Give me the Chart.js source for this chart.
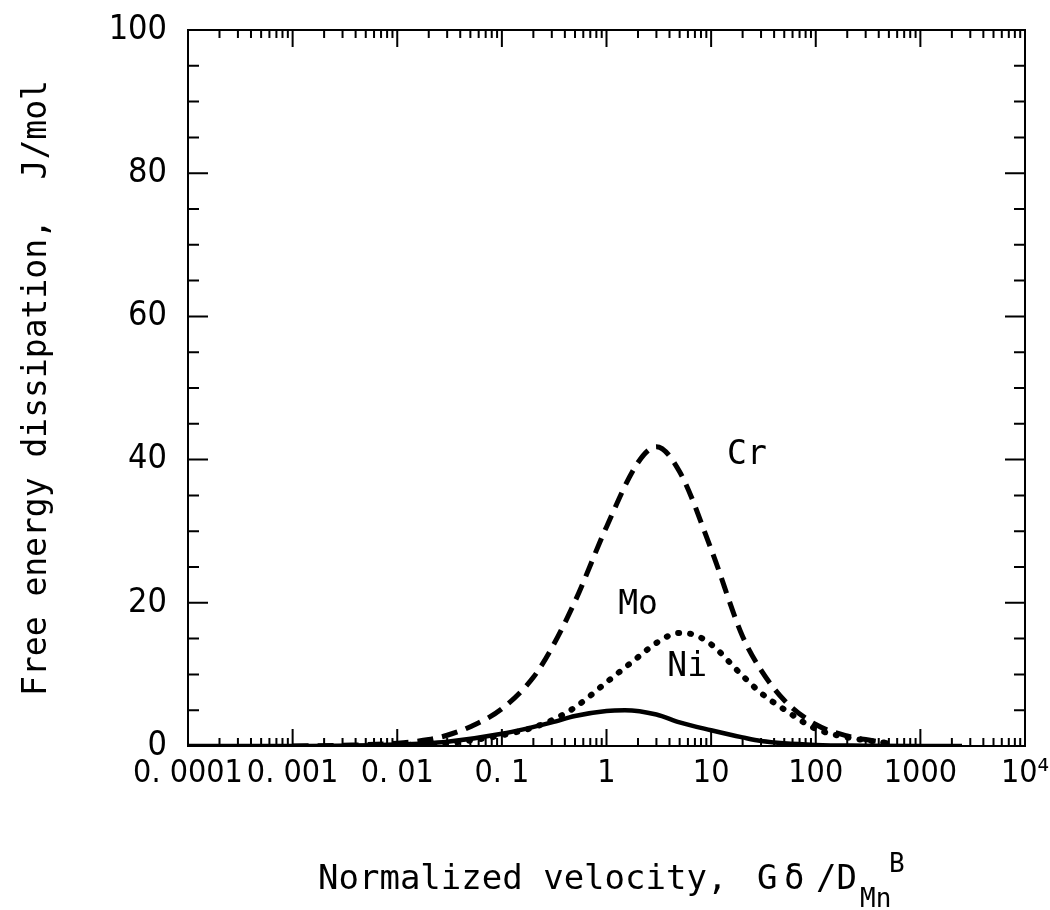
<!DOCTYPE html>
<html>
<head>
<meta charset="utf-8">
<script src="https://cdn.jsdelivr.net/npm/chart.js@4.4.1/dist/chart.umd.min.js"></script>
<style>
  body { margin: 0; background: #fff; }
  #wrap { width: 1050px; height: 910px; }
</style>
</head>
<body>
<div id="wrap"><canvas id="dissChart" width="1050" height="910"></canvas></div>
<script>
// x axis decades and their labels
const xDecades = [1e-4, 1e-3, 1e-2, 1e-1, 1, 10, 100, 1000, 1e4];
const xTickLabels = ['0. 0001', '0. 001', '0. 01', '0. 1', '1', '10', '100', '1000', '10\u2074'];

// Cr (dashed)
const crX = [0.001, 0.003, 0.01, 0.02, 0.03, 0.05, 0.1, 0.2, 0.3, 0.5, 1, 2, 3, 5, 10, 20, 30, 50, 100, 200, 300, 500];
const crY = [0, 0.1, 0.4, 0.9, 1.5, 2.7, 5.2, 9.6, 13.7, 20.2, 30.6, 39.6, 41.8, 38.3, 27.5, 15.3, 10.6, 6.4, 3.0, 1.4, 0.9, 0.4];
// Mo (dotted)
const moX = [0.01, 0.03, 0.1, 0.2, 0.3, 0.5, 1, 2, 3, 5, 7, 10, 20, 30, 50, 100, 200, 300, 500];
const moY = [0.1, 0.4, 1.5, 2.6, 3.6, 5.4, 8.9, 12.4, 14.4, 15.8, 15.5, 14.2, 9.8, 7.4, 5.1, 2.4, 1.2, 0.8, 0.4];
// Ni (solid)
const niX = [0.0001, 0.001, 0.01, 0.03, 0.1, 0.3, 0.5, 1, 1.5, 3, 5, 10, 20, 30, 100, 300, 1000, 2500];
const niY = [0, 0, 0.2, 0.6, 1.7, 3.3, 4.2, 4.9, 5.0, 4.4, 3.3, 2.2, 1.2, 0.7, 0.15, 0.05, 0, 0];

const toPoints = (xs, ys) => xs.map((v, i) => ({ x: v, y: ys[i] }));

// pick a narrow font for the tick numbers if one is installed
function hasFont(name) {
    const c = document.createElement('canvas').getContext('2d');
    const probe = '0. 0001 abcMWil';
    c.font = '40px monospace';
    const w1 = c.measureText(probe).width;
    c.font = `40px '${name}', monospace`;
    return c.measureText(probe).width !== w1;
}
const monoFont = "'DejaVu Sans Mono', monospace";
let tickFamily = "'Liberation Sans', sans-serif";
let tickScale = 0.9;
if (hasFont('Liberation Sans Narrow')) { tickFamily = "'Liberation Sans Narrow', sans-serif"; tickScale = 1.08; }
else if (hasFont('DejaVu Sans Condensed')) { tickFamily = "'DejaVu Sans Condensed', sans-serif"; tickScale = 1; }

// curve names, placed in data coordinates
const curveLabels = [
    { text: 'Cr', x: 22, y: 40.6 },
    { text: 'Mo', x: 2.0, y: 19.7 },
    { text: 'Ni', x: 5.9, y: 11.0 }
];

// frame, inward ticks, curve names and the x title
const framePlugin = {
    id: 'framePlugin',
    afterDatasetsDraw(chart) {
        const { ctx, chartArea: a, scales: { x, y } } = chart;
        ctx.save();
        ctx.strokeStyle = '#000';
        ctx.lineWidth = 2;
        ctx.strokeRect(a.left, a.top, a.right - a.left, a.bottom - a.top);
        ctx.beginPath();
        xDecades.forEach((d, i) => {
            for (let k = 1; k <= 9; k++) {
                if (i === xDecades.length - 1 && k > 1) break;
                const px = x.getPixelForValue(d * k);
                const len = k === 1 ? 17 : 8;
                ctx.moveTo(px, a.bottom); ctx.lineTo(px, a.bottom - len);
                ctx.moveTo(px, a.top); ctx.lineTo(px, a.top + len);
            }
        });
        for (let v = 0; v <= 100; v += 5) {
            const py = y.getPixelForValue(v);
            const len = v % 20 === 0 ? 20 : 11;
            ctx.moveTo(a.left, py); ctx.lineTo(a.left + len, py);
            ctx.moveTo(a.right, py); ctx.lineTo(a.right - len, py);
        }
        ctx.stroke();

        ctx.fillStyle = '#000';
        ctx.font = `33px ${monoFont}`;
        ctx.textAlign = 'center';
        ctx.textBaseline = 'middle';
        curveLabels.forEach(l => {
            ctx.fillText(l.text, x.getPixelForValue(l.x), y.getPixelForValue(l.y));
        });

        // x axis title with sub/superscript
        ctx.textAlign = 'left';
        ctx.textBaseline = 'alphabetic';
        ctx.font = `34px ${monoFont}`;
        ctx.fillText('Normalized velocity,', 318, 889);
        ctx.fillText('G', 757, 889);
        ctx.fillText('\u03b4', 784, 889);
        ctx.fillText('/D', 816, 889);
        ctx.font = `26px ${monoFont}`;
        ctx.fillText('Mn', 860, 907);
        ctx.fillText('B', 889, 872);
        ctx.restore();
    }
};

const ctxDiss = document.getElementById('dissChart').getContext('2d');
const dissChart = new Chart(ctxDiss, {
    type: 'line',
    data: {
        datasets: [
            {
                label: 'Cr',
                data: toPoints(crX, crY),
                borderColor: '#000',
                borderWidth: 5,
                borderDash: [16, 9],
                pointRadius: 0,
                cubicInterpolationMode: 'monotone'
            },
            {
                label: 'Mo',
                data: toPoints(moX, moY),
                borderColor: '#000',
                borderWidth: 6,
                borderDash: [1, 11],
                borderCapStyle: 'round',
                pointRadius: 0,
                cubicInterpolationMode: 'monotone'
            },
            {
                label: 'Ni',
                data: toPoints(niX, niY),
                borderColor: '#000',
                borderWidth: 4.5,
                pointRadius: 0,
                cubicInterpolationMode: 'monotone'
            }
        ]
    },
    options: {
        responsive: false,
        animation: false,
        events: [],
        layout: { padding: { left: 18, right: 25, top: 30, bottom: 0 } },
        plugins: {
            legend: { display: false },
            tooltip: { enabled: false }
        },
        scales: {
            x: {
                type: 'logarithmic',
                min: 1e-4,
                max: 1e4,
                grid: { display: false, drawTicks: false },
                border: { display: false },
                afterBuildTicks: s => { s.ticks = xDecades.map(v => ({ value: v })); },
                afterFit: s => { s.height = 164; s.paddingLeft = 0; s.paddingRight = 0; },
                ticks: {
                    autoSkip: false,
                    maxRotation: 0,
                    padding: 8,
                    color: '#000',
                    font: { family: tickFamily, size: Math.round(32 * tickScale) },
                    callback: (v, i) => xTickLabels[i]
                }
            },
            y: {
                min: 0,
                max: 100,
                grid: { display: false, drawTicks: false },
                border: { display: false },
                afterFit: s => { s.width = 170; s.paddingTop = 0; s.paddingBottom = 0; },
                ticks: {
                    stepSize: 20,
                    padding: 21,
                    color: '#000',
                    font: { family: tickFamily, size: Math.round(34 * tickScale) }
                },
                title: {
                    display: true,
                    text: 'Free energy dissipation,  J/mol',
                    color: '#000',
                    font: { family: monoFont, size: 33 },
                    padding: 0
                }
            }
        }
    },
    plugins: [framePlugin]
});
</script>
</body>
</html>
